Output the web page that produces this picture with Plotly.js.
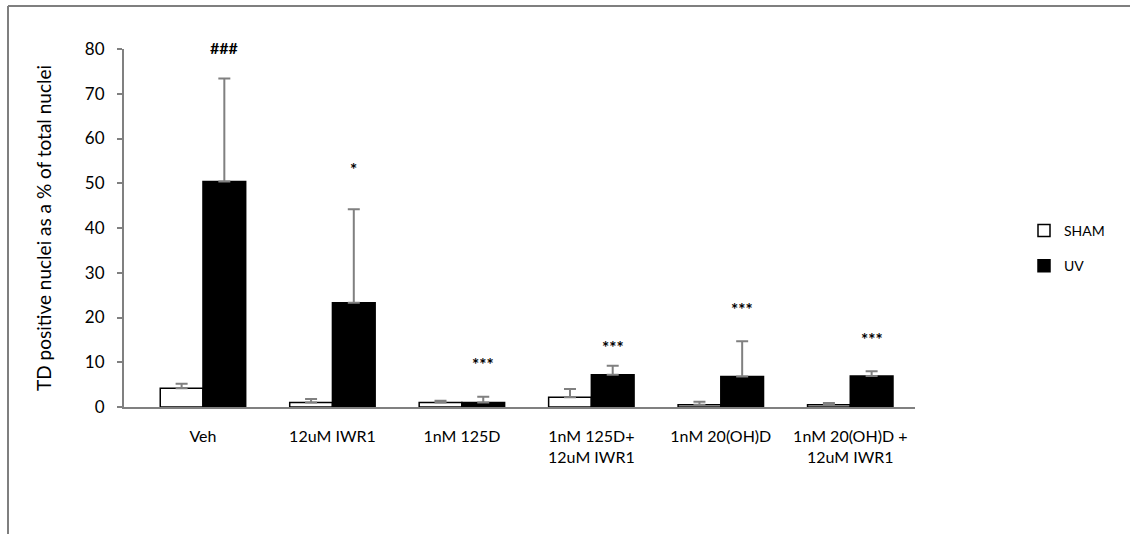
<!DOCTYPE html>
<html>
<head>
<meta charset="utf-8">
<script src="https://cdn.plot.ly/plotly-3.0.1.min.js"></script>
<style>html,body{margin:0;padding:0;background:#fff}#chart{width:1130px;height:534px}</style>
</head>
<body>
<div id="chart"></div>
<script>
var categories = ["Veh", "12uM IWR1", "1nM 125D", "1nM 125D+<br>12uM IWR1", "1nM 20(OH)D", "1nM 20(OH)D +<br>12uM IWR1"];
var shamValues = [4.2, 1.0, 1.0, 2.2, 0.5, 0.5];
var shamErrors = [1.0, 0.8, 0.4, 1.8, 0.7, 0.4];
var uvValues = [50.4, 23.3, 1.0, 7.2, 6.8, 6.9];
var uvErrors = [23.0, 20.9, 1.3, 2.0, 7.9, 1.1];
var sigLabels = ["###", "*", "***", "***", "***", "***"];
var sigHeights = [80.4, 53.0, 9.4, 13.2, 21.7, 15.0];
var yTicks = [0, 10, 20, 30, 40, 50, 60, 70, 80];

var FONT = "Lato, 'Open Sans', sans-serif";
var idx = categories.map(function(_, i){ return i; });
var Y_MAX = 80;

var traces = [
  {
    type: "bar", name: "SHAM", x: idx, y: shamValues,
    marker: {color: "#ffffff", line: {color: "#000000", width: 1.5}},
    error_y: {type: "data", array: shamErrors, symmetric: false, arrayminus: shamValues.map(function(){return 0;}), color: "#808080", thickness: 2, width: 6},
    legendgroup: "a"
  },
  {
    type: "bar", name: "UV", x: idx, y: uvValues,
    marker: {color: "#000000", line: {color: "#000000", width: 1.5}},
    error_y: {type: "data", array: uvErrors, symmetric: false, arrayminus: uvValues.map(function(){return 0;}), color: "#808080", thickness: 2, width: 6},
    legendgroup: "b"
  }
];

var annotations = sigLabels.map(function(t, i){
  return {x: i + 0.165, y: sigHeights[i] / Y_MAX, xref: "x", yref: "paper", text: "<b>" + t + "</b>", showarrow: false,
          font: {family: FONT, size: t === "###" ? 16 : 17, color: "#000"}, yanchor: "middle"};
});

var px = function(p){ return (p - 124) / 791; };
var py = function(p){ return (407 - p) / 358; };

var layout = {
  width: 1130, height: 534,
  margin: {l: 124, r: 215, t: 49, b: 127},
  paper_bgcolor: "#ffffff", plot_bgcolor: "#ffffff",
  barmode: "group", bargap: 0.34, bargroupgap: 0,
  font: {family: FONT, color: "#000"},
  xaxis: {
    range: [-0.61, 5.5], tickmode: "array", tickvals: idx, ticktext: categories,
    showgrid: false, zeroline: false, showline: true, linecolor: "#808080", linewidth: 2,
    ticks: "", ticklabelstandoff: 14, tickfont: {family: FONT, size: 16, color: "#000"}, fixedrange: true
  },
  yaxis: {
    range: [0, Y_MAX], tickmode: "array", tickvals: yTicks,
    showgrid: false, zeroline: false, showline: true, linecolor: "#808080", linewidth: 2,
    ticks: "outside", ticklen: 5, tickwidth: 2, tickcolor: "#808080", ticklabelstandoff: 9,
    tickfont: {family: FONT, size: 17, color: "#000"},
    title: {text: "TD positive nuclei as a % of total nuclei", font: {family: FONT, size: 19, color: "#000"}, standoff: 28}
  },
  showlegend: true,
  legend: {x: px(1024), y: py(215), xanchor: "left", yanchor: "top", font: {family: FONT, size: 14, color: "#000"},
           traceorder: "grouped", tracegroupgap: 14, bgcolor: "rgba(0,0,0,0)", itemwidth: 30},
  annotations: annotations,
  shapes: [
    {type: "line", xref: "paper", yref: "paper", x0: px(8), x1: px(8), y0: py(6), y1: py(540), line: {color: "#7f7f7f", width: 2}},
    {type: "line", xref: "paper", yref: "paper", x0: px(8), x1: px(1130), y0: py(6), y1: py(6), line: {color: "#7f7f7f", width: 2}}
  ]
};

Plotly.newPlot("chart", traces, layout, {displayModeBar: false, staticPlot: true});
</script>
</body>
</html>
